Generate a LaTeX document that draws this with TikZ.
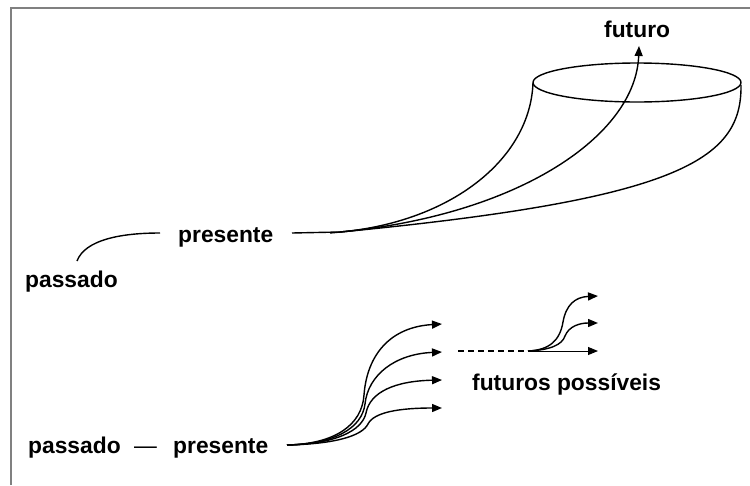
\documentclass[tikz,border=0pt]{standalone}
\usepackage{fontspec}
\setmainfont{Liberation Sans}
\usetikzlibrary{arrows.meta}
\begin{document}
\begin{tikzpicture}[x=1pt,y=-1pt,
  lbl/.style={font=\fontsize{22.8}{24}\selectfont\bfseries, inner sep=0pt, anchor=base west},
  crv/.style={line width=1.4pt},
  arr/.style={line width=1.4pt, -{Triangle[length=10pt,width=8pt]}},
  frameline/.style={draw=gray, line width=1.2pt}]
\useasboundingbox (0,0) rectangle (750,485);
\draw[frameline] (11,485) -- (11,8) -- (750,8);

% ---------- top diagram ----------
\node[lbl] (futuro) at (604,37) {futuro};
\node[lbl] (pres1) at (178,242) {presente};
\node[lbl] (pass1) at (25,287) {passado};

\coordinate (pa1) at (77,261);
\coordinate (pr1w) at (160,233);
\coordinate (pr1e) at (292,233);
\coordinate (conv) at (340,232);
\coordinate (hl) at (533,83);
\coordinate (hr) at (741,85);
\coordinate (ftip) at (639,46);

\draw[crv] (pa1) .. controls (85,240) and (120,233) .. (pr1w);
\draw[crv] (pr1e) -- (conv);
\draw[line width=1.4pt] (637,82.5) ellipse [x radius=104, y radius=19.5];
\draw[crv] (hl) .. controls (530,160) and (450,222) .. (conv);
\draw[crv] (hr) .. controls (742,160) and (680,200) .. (330,233);
\draw[arr] (conv) .. controls (520,215) and (636,135) .. (ftip);

% ---------- bottom diagram ----------
\node[lbl] (pass2) at (28,453) {passado};
\node[lbl, font=\fontsize{22.8}{24}\selectfont\mdseries] (dash2) at (134,453) {—};
\node[lbl] (pres2) at (173,453) {presente};
\node[lbl] (fp) at (472,390) {futuros possíveis};

\coordinate (b0) at (287,445);
\coordinate (t1) at (442,324);
\coordinate (t2) at (442,352);
\coordinate (t3) at (442,380);
\coordinate (t4) at (442,408);

\draw[arr] (b0) .. controls (335,444) and (362,425) .. (364,395) .. controls (367,355) and (390,327) .. (t1);
\draw[arr] (b0) .. controls (335,444) and (362,428) .. (365,404) .. controls (368,375) and (395,354) .. (t2);
\draw[arr] (b0) .. controls (335,444) and (362,431) .. (366,413) .. controls (370,392) and (395,381) .. (t3);
\draw[arr] (b0) .. controls (335,444) and (362,436) .. (368,424) .. controls (374,412) and (400,408) .. (t4);

\coordinate (d0) at (458,351);
\coordinate (s0) at (528,351);
\coordinate (u1) at (598,296);
\coordinate (u2) at (598,323);
\coordinate (u3) at (598,351);
\draw[line width=1.4pt, dash pattern=on 6pt off 4pt] (d0) -- (s0);
\draw[line width=1pt, -{Triangle[length=10pt,width=8pt]}] (s0) -- (u3);
\draw[arr] (s0) .. controls (550,350) and (560,340) .. (563,322) .. controls (566,305) and (575,297) .. (u1);
\draw[arr] (s0) .. controls (550,350) and (562,345) .. (565,336) .. controls (569,326) and (580,323) .. (u2);
\end{tikzpicture}
\end{document}
